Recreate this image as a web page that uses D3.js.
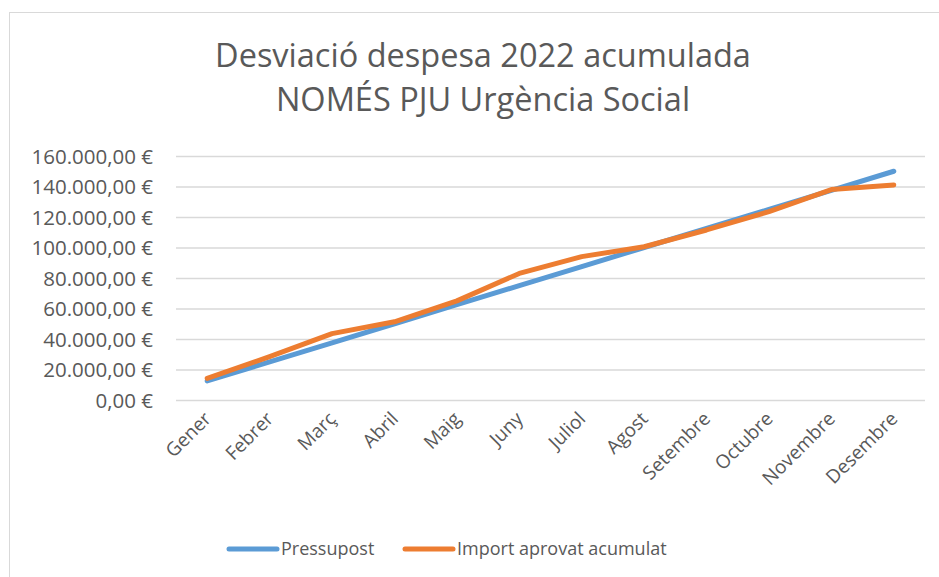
<!DOCTYPE html>
<html>
<head>
<meta charset="utf-8">
<script src="https://cdn.jsdelivr.net/npm/d3@7"></script>
<style>
  body { margin: 0; background: #fff; }
  text { font-family: "Open Sans", sans-serif; fill: #595959; }
</style>
</head>
<body>
<div id="chart"></div>
<script>
const months = ["Gener", "Febrer", "Març", "Abril", "Maig", "Juny", "Juliol", "Agost", "Setembre", "Octubre", "Novembre", "Desembre"];
const pressupost = [12500, 25000, 37500, 50000, 62500, 75000, 87500, 100000, 112500, 125000, 137500, 150000];
const importAprovat = [14200, 28400, 43500, 51300, 65000, 83000, 94000, 100500, 111500, 123500, 138000, 141000];
const yTicks = [0, 20000, 40000, 60000, 80000, 100000, 120000, 140000, 160000];
const titleLines = ["Desviació despesa 2022 acumulada", "NOMÉS PJU Urgència Social"];
const seriesNames = ["Pressupost", "Import aprovat acumulat"];

const width = 939, height = 577;
const margin = {left: 176, right: 14, top: 156, bottom: 177};
const colors = ["#5B9BD5", "#ED7D31"];

const svg = d3.select("#chart").append("svg")
    .attr("width", width)
    .attr("height", height);

// chart frame (only left and top edges are visible in the picture)
svg.append("rect")
    .attr("x", 9.5).attr("y", 12.5)
    .attr("width", 1000).attr("height", 1000)
    .attr("fill", "none")
    .attr("stroke", "#d9d9d9");

svg.append("g")
    .selectAll("text")
    .data(titleLines)
    .join("text")
    .attr("x", 483)
    .attr("y", (d, i) => 67 + i * 44)
    .attr("text-anchor", "middle")
    .style("font-size", "32.5px")
    .text(d => d);

const x = d3.scaleBand()
    .domain(months)
    .range([margin.left, width - margin.right]);

const y = d3.scaleLinear()
    .domain([0, 160000])
    .range([height - margin.bottom, margin.top]);

const fmt = v => d3.format(",.2f")(v).replace(/,/g, " ").replace(".", ",").replace(/ /g, ".") + " €";

// gridlines
svg.append("g")
    .selectAll("line")
    .data(yTicks)
    .join("line")
    .attr("x1", margin.left)
    .attr("x2", width - margin.right)
    .attr("y1", d => y(d) + 0.5)
    .attr("y2", d => y(d) + 0.5)
    .attr("stroke", "#d9d9d9")
    .attr("stroke-width", 1.5);

const yAxis = svg.append("g")
    .attr("transform", `translate(${margin.left - 23},0)`)
    .call(d3.axisLeft(y).tickValues(yTicks).tickFormat(fmt).tickSize(0).tickPadding(0));
yAxis.select(".domain").remove();
yAxis.selectAll("text")
    .style("font-size", "20.5px")
    .style("font-family", "'Open Sans', sans-serif")
    .attr("fill", "#595959")
    .attr("dy", "0.35em");

const xAxis = svg.append("g")
    .attr("transform", `translate(0,${height - margin.bottom})`)
    .call(d3.axisBottom(x).tickSize(0).tickPadding(0));
xAxis.select(".domain").remove();
xAxis.selectAll("text")
    .style("font-size", "19px")
    .style("font-family", "'Open Sans', sans-serif")
    .attr("fill", "#595959")
    .attr("text-anchor", "end")
    .attr("dy", 0)
    .attr("y", 0)
    .attr("transform", "translate(5,20) rotate(-45)");

const line = d3.line()
    .x((d, i) => x(months[i]) + x.bandwidth() / 2)
    .y(d => y(d));

[pressupost, importAprovat].forEach((s, i) => {
    svg.append("path")
        .datum(s)
        .attr("fill", "none")
        .attr("stroke", colors[i])
        .attr("stroke-width", 5)
        .attr("stroke-linecap", "round")
        .attr("stroke-linejoin", "round")
        .attr("d", line);
});

// legend
const legendX = [229, 405];
const legend = svg.append("g")
    .selectAll("g")
    .data(seriesNames)
    .join("g")
    .attr("transform", (d, i) => `translate(${legendX[i]},549)`);
legend.append("line")
    .attr("x1", 0).attr("x2", 48)
    .attr("stroke", (d, i) => colors[i])
    .attr("stroke-width", 5)
    .attr("stroke-linecap", "round");
legend.append("text")
    .attr("x", 52)
    .attr("dy", "0.35em")
    .style("font-size", "18px")
    .text(d => d);
</script>
</body>
</html>
